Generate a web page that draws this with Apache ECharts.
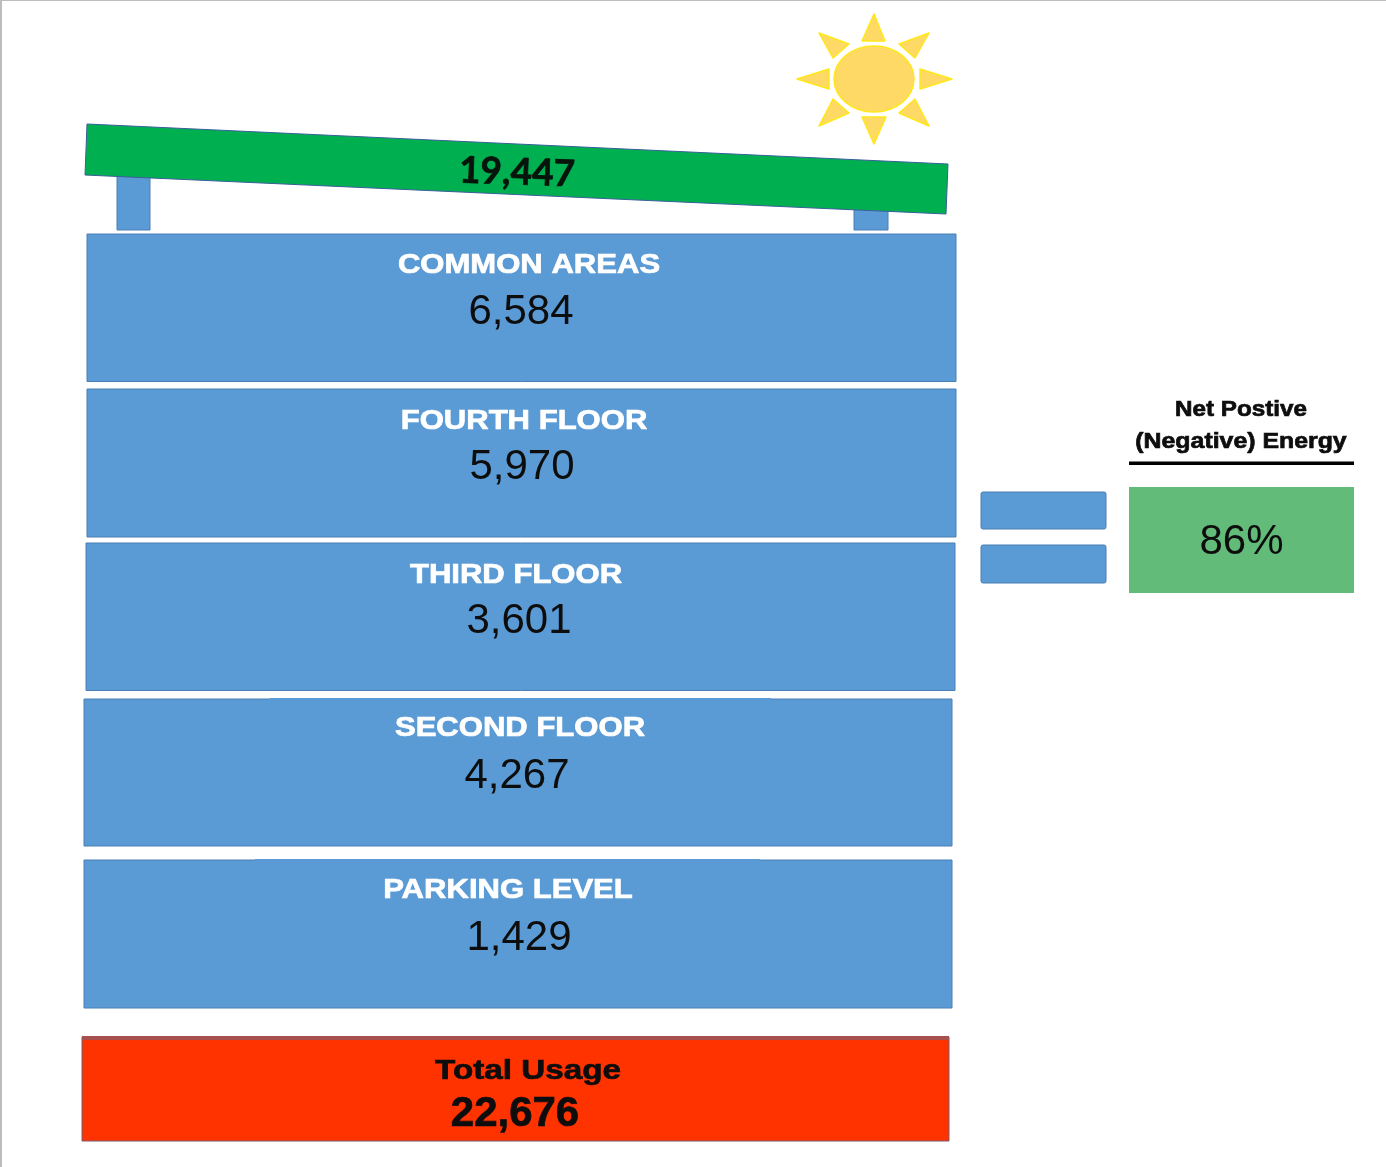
<!DOCTYPE html>
<html>
<head>
<meta charset="utf-8">
<title>Net positive energy</title>
<script src="https://cdn.jsdelivr.net/npm/echarts@6/dist/echarts.min.js"></script>
<style>html,body{margin:0;padding:0;background:#fff}#c{width:1386px;height:1167px;filter:blur(0.6px)}</style>
</head>
<body>
<div id="c"></div>
<script>
// ---- values ----
const floorNames = ['COMMON AREAS', 'FOURTH FLOOR', 'THIRD FLOOR', 'SECOND FLOOR', 'PARKING LEVEL'];
const floorUsage = [6584, 5970, 3601, 4267, 1429];
const solarGeneration = [19447];
const totalLabel = ['Total Usage'];
const totalUsage = [22676];
const netLabels = ['Net Postive', '(Negative) Energy'];
const netPercent = [86];

// ---- layout, in the page's pixel space (the hidden axes map it) ----
const floorBoxes = [
  [87, 234, 956, 381.5], [87, 389, 956, 537], [86, 543, 955, 690.5], [84, 699, 952, 846], [84, 860, 952, 1008]
];
const floorNameAt = [[529, 266], [524, 421.5], [516, 575.5], [520, 728.5], [508, 890.5]];
const floorValueAt = [[521, 312], [522, 467], [519, 621], [517, 776], [519, 938]];
const topGaps = [null, null, null, [270, 771], [255, 760]];
const supports = [[117, 176, 150, 230], [854, 208, 888, 230]];
const panel = [[87, 124], [948, 164], [946, 214], [85, 175]];
const equalBars = [[981, 492, 1106, 529], [981, 545, 1106, 583]];
const sunRays = [
  [[874, 14], [862, 41], [885, 41]], [[952, 79], [920, 69], [920, 89]],
  [[874, 144], [862, 117], [886, 117]], [[797, 79], [829, 69], [829, 89]],
  [[819, 33], [849, 44], [833, 58]], [[929, 33], [899, 44], [915, 58]],
  [[929, 126], [899, 113], [915, 99]], [[819, 126], [849, 113], [833, 99]]
];

const BLUE = '#5B9BD5', BLUE_EDGE = '#4A7FB5', INK = '#0d0d0d';
const ARIAL = '"Liberation Sans", Arial, sans-serif';
const fmt = v => v.toLocaleString('en-US');

function rectEl(api, b, fill, stroke, lw, r) {
  const p0 = api.coord([b[0], b[1]]), p1 = api.coord([b[2], b[3]]);
  return { type: 'rect', shape: { x: p0[0], y: p0[1], width: p1[0] - p0[0], height: p1[1] - p0[1], r: r || 0 },
           style: { fill: fill, stroke: stroke, lineWidth: lw || 0 } };
}
function textEl(api, at, text, o) {
  const p = api.coord(at);
  const c = o.fill || INK;
  return { type: 'text', x: p[0], y: p[1], rotation: o.rotation || 0, scaleX: o.sx || 1, scaleY: 1, z2: 10,
           style: { x: 0, y: 0, text: text, align: 'center', verticalAlign: 'middle', fill: c,
                    stroke: o.weight ? c : null, lineWidth: o.weight ? 0.7 : 0,
                    font: (o.weight || 'normal') + ' ' + o.size + 'px ' + (o.family || ARIAL) } };
}
function polyEl(api, pts, fill, stroke, lw) {
  return { type: 'polygon', shape: { points: pts.map(q => api.coord(q)) }, style: { fill: fill, stroke: stroke, lineWidth: lw || 0, lineJoin: 'round' } };
}
function one(render, name) {
  return { type: 'custom', name: name, coordinateSystem: 'cartesian2d', clip: false, silent: true,
           data: [[0, 0]], encode: { x: 0, y: 1 }, renderItem: (p, api) => ({ type: 'group', children: render(api) }) };
}

const option = {
  animation: false,
  backgroundColor: '#fff',
  tooltip: { show: false },
  grid: { left: 0, top: 0, right: 0, bottom: 0 },
  xAxis: { type: 'value', min: 0, max: 1386, show: false },
  yAxis: { type: 'value', min: 0, max: 1167, inverse: true, show: false },
  series: [
    one(api => [
      rectEl(api, [0, 0, 2, 1167], '#bdbdbd'),
      rectEl(api, [0, 0, 1386, 1], '#bdbdbd')
    ], 'frame'),
    one(api => {
      const c = api.coord([874, 79]);
      const rays = sunRays.map(t => polyEl(api, t, '#FFD966', '#FFE81A', 1.5));
      rays.push({ type: 'ellipse', shape: { cx: c[0], cy: c[1], rx: 40, ry: 33 }, style: { fill: '#FFD966', stroke: '#FFE81A', lineWidth: 1.5 } });
      return rays;
    }, 'sun'),
    one(api => supports.map(b => rectEl(api, b, BLUE, BLUE_EDGE, 1)), 'supports'),
    one(api => [
      polyEl(api, panel, '#00B050', '#3A5F9A', 1),
      textEl(api, [517, 172.5], fmt(solarGeneration[0]), { size: 37, weight: 'bold', family: 'Lato, sans-serif', rotation: -0.035, fill: '#06140b' })
    ], 'solar'),
    one(api => {
      const out = [];
      floorNames.forEach((name, i) => {
        const b = floorBoxes[i];
        out.push(rectEl(api, b, BLUE, BLUE_EDGE, 1));
        if (topGaps[i]) out.push(rectEl(api, [topGaps[i][0], b[1] - 1, topGaps[i][1], b[1] + 1], BLUE));
        out.push(textEl(api, floorNameAt[i], name, { size: 27, weight: 'bold', sx: 1.15, fill: '#ffffff' }));
        out.push(textEl(api, floorValueAt[i], fmt(floorUsage[i]), { size: 42 }));
      });
      return out;
    }, 'floors'),
    one(api => [
      rectEl(api, [82, 1037, 949, 1141], '#FF3300', '#7A5A70', 1),
      rectEl(api, [82, 1036, 949, 1040], '#A65050'),
      textEl(api, [528, 1071.5], totalLabel[0], { size: 27, weight: 'bold', sx: 1.23 }),
      textEl(api, [515, 1114], fmt(totalUsage[0]), { size: 42, weight: 'bold' })
    ], 'total'),
    one(api => {
      const out = equalBars.map(b => rectEl(api, b, BLUE, BLUE_EDGE, 1, 2));
      out.push(rectEl(api, [1129, 487, 1354, 593], '#62BB78'));
      out.push(rectEl(api, [1129, 461.5, 1354, 465], '#000000'));
      out.push(textEl(api, [1241, 410], netLabels[0], { size: 22, weight: 'bold', sx: 1.1 }));
      out.push(textEl(api, [1241, 441.5], netLabels[1], { size: 22, weight: 'bold', sx: 1.13 }));
      out.push(textEl(api, [1241.5, 542], netPercent[0] + '%', { size: 42 }));
      return out;
    }, 'net')
  ]
};
echarts.init(document.getElementById('c'), null, { renderer: 'canvas' }).setOption(option);
</script>
</body>
</html>
